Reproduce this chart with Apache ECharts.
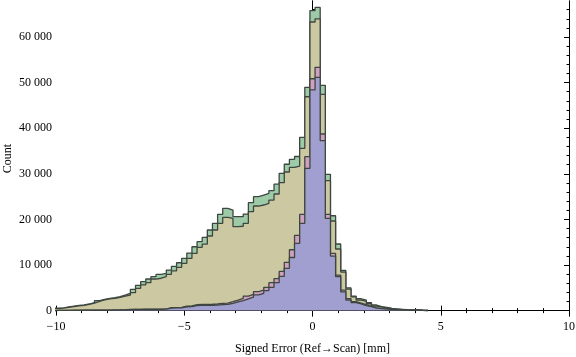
<!DOCTYPE html>
<html>
<head>
<meta charset="utf-8">
<script src="https://cdn.jsdelivr.net/npm/echarts@6.0.0/dist/echarts.min.js"></script>
<style>
  html, body { margin: 0; padding: 0; background: #fff; }
  #main { width: 576px; height: 357px; }
</style>
</head>
<body>
<div id="main"></div>
<script>
// bins are 0.2 wide, first bin starts at -10.1 (centres on even tenths)
var binStart = -10.1;
var binWidth = 0.2;

// counts per bin
var greenCounts = [520, 620, 800, 980, 1150, 1250, 1450, 1730, 2170, 2470,
    2690, 2830, 3050, 3420, 3790, 4670, 5550, 6340, 6930, 7440,
    7960, 8180, 8900, 9700, 10500, 11470, 12630, 14010, 15110, 16070,
    17680, 19140, 21120, 22430, 22060, 20600, 20600, 21180, 23670, 24980,
    25350, 25720, 26300, 27740, 30100, 32100, 33180, 33800, 38000, 48970,
    65800, 66500, 49400, 29890, 20810, 14610, 8800, 5000, 3200, 2600,
    2300, 1730, 1230, 860, 720, 500, 350, 280, 200, 150,
    150, 100, 70];
var oliveCounts = [450, 560, 720, 880, 1050, 1150, 1350, 1630, 2050, 2350,
    2560, 2700, 2900, 3200, 3420, 3930, 4890, 5630, 6120, 6930,
    7100, 7440, 7960, 8700, 9500, 10370, 11470, 12570, 13880, 14600,
    16360, 17680, 19140, 20460, 20240, 18400, 18500, 19140, 21690, 22940,
    23160, 23530, 24250, 25570, 28050, 30400, 31400, 31700, 35590, 46900,
    63300, 64000, 47430, 28490, 19650, 13510, 8450, 4720, 3000, 2320,
    2030, 1510, 1000, 760, 620, 430, 300, 240, 170, 130,
    120, 80, 50];
var pinkCounts = [60, 60, 70, 80, 90, 100, 100, 110, 120, 120,
    130, 150, 170, 200, 260, 280, 290, 300, 300, 310,
    320, 350, 640, 660, 700, 1000, 1020, 1300, 1380, 1380,
    1400, 1450, 1600, 1650, 1960, 2320, 2690, 3200, 3570, 4150,
    4520, 5110, 6120, 7000, 8600, 10590, 13350, 16500, 21100, 33750,
    50850, 53350, 38730, 21120, 12570, 7800, 4500, 2600, 1950, 1650,
    1300, 950, 600, 450, 380, 300, 220, 180, 130, 100,
    80, 50, 30];
var blueCounts = [40, 40, 50, 60, 70, 80, 80, 90, 100, 100,
    110, 130, 150, 180, 230, 250, 260, 270, 270, 280,
    290, 310, 560, 580, 620, 850, 900, 1100, 1150, 1150,
    1180, 1200, 1300, 1380, 1600, 1900, 2200, 2600, 2950, 3450,
    3800, 4400, 5110, 6120, 7500, 9280, 11650, 14760, 19140, 31200,
    48400, 51150, 37260, 20240, 11970, 7440, 4100, 2320, 1780, 1500,
    1100, 860, 550, 420, 350, 280, 200, 160, 120, 90,
    70, 40, 20];

var yMajorTicks = [0, 10000, 20000, 30000, 40000, 50000, 60000];
var yMinorTicks = [];
for (var t = 2000; t <= 66000; t += 2000) {
    if (t % 10000 !== 0) yMinorTicks.push(t);
}

var font = 'Liberation Serif';

// histogram outline as step points
function stepData(counts) {
    var pts = [[binStart, 0]];
    for (var i = 0; i < counts.length; i++) {
        pts.push([binStart + i * binWidth, counts[i]]);
    }
    var end = binStart + counts.length * binWidth;
    pts.push([end, counts[counts.length - 1]]);
    pts.push([end, 0]);
    return pts;
}

function histSeries(name, counts, fill, z) {
    return {
        name: name,
        type: 'line',
        step: 'end',
        data: stepData(counts),
        showSymbol: false,
        symbol: 'none',
        z: z,
        lineStyle: { color: '#3e4640', width: 1.3 },
        areaStyle: { color: fill, opacity: 1 },
        silent: true
    };
}

function yFrameAxis(pos, ticks, len, withLabels) {
    return {
        type: 'value',
        position: pos,
        min: -1180,
        max: 67900,
        axisLine: { show: true, lineStyle: { color: '#000', width: 1 } },
        axisTick: { show: true, inside: true, length: len, customValues: ticks,
            lineStyle: { color: '#000', width: 1 } },
        axisLabel: withLabels ? {
            show: true,
            customValues: ticks,
            margin: 4,
            fontFamily: font,
            fontSize: 12,
            color: '#000',
            formatter: function (v) {
                return String(v).replace(/\B(?=(\d{3})+(?!\d))/g, ' ');
            }
        } : { show: false },
        splitLine: { show: false }
    };
}

var chart = echarts.init(document.getElementById('main'));
var option = {
    animation: false,
    backgroundColor: '#fff',
    grid: { left: 56, right: 7, top: 1, bottom: 41, outerBoundsMode: 'none', containLabel: false },
    xAxis: [
        {
            type: 'value',
            position: 'bottom',
            min: -10,
            max: 10,
            interval: 5,
            name: 'Signed Error (Ref\u2192Scan) [mm]',
            nameLocation: 'middle',
            nameGap: 27,
            nameMoveOverlap: false,
            nameTextStyle: { fontFamily: font, fontSize: 12, color: '#000' },
            axisLine: { show: true, lineStyle: { color: '#000', width: 1 } },
            axisTick: { show: true, inside: true, length: 5, lineStyle: { color: '#000' } },
            minorTick: { show: true, splitNumber: 5, length: 2.5, lineStyle: { color: '#000' } },
            axisLabel: {
                margin: 5,
                fontFamily: font,
                fontSize: 12,
                color: '#000',
                formatter: function (v) { return String(v).replace('-', '\u2212'); }
            },
            splitLine: { show: false }
        },
        {
            type: 'value',
            position: 'top',
            min: -10,
            max: 10,
            interval: 5,
            axisLine: { show: true, lineStyle: { color: '#000', width: 1 } },
            axisTick: { show: true, inside: true, length: 5, lineStyle: { color: '#000' } },
            minorTick: { show: true, splitNumber: 5, length: 2.5, lineStyle: { color: '#000' } },
            axisLabel: { show: false },
            splitLine: { show: false }
        }
    ],
    yAxis: [
        Object.assign(yFrameAxis('left', yMajorTicks, 5, true), {
            name: 'Count',
            nameLocation: 'middle',
            nameGap: 42,
            nameMoveOverlap: false,
            nameTextStyle: { fontFamily: font, fontSize: 12, color: '#000' }
        }),
        yFrameAxis('left', yMinorTicks, 2.5, false),
        yFrameAxis('right', yMajorTicks, 5, false),
        yFrameAxis('right', yMinorTicks, 2.5, false)
    ],
    series: [
        histSeries('g', greenCounts, '#9dcba7', 2),
        histSeries('o', oliveCounts, '#ccc8a2', 3),
        histSeries('p', pinkCounts, '#cfa0bf', 4),
        Object.assign(histSeries('b', blueCounts, '#a19fd0', 5), {
            markLine: {
                silent: true,
                symbol: 'none',
                label: { show: false },
                lineStyle: { color: '#000', width: 1, type: 'solid' },
                data: [{ yAxis: 0 }]
            }
        })
    ]
};
chart.setOption(option);
</script>
</body>
</html>
